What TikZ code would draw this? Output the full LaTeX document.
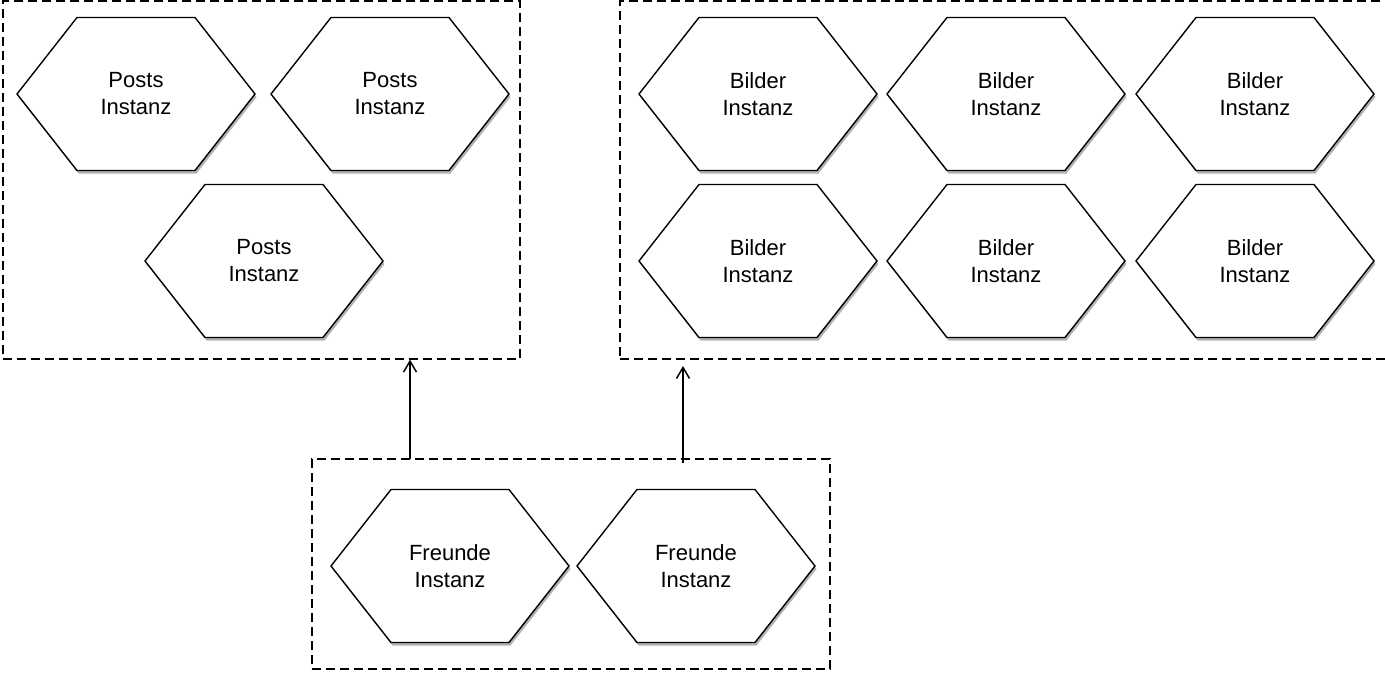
\documentclass[tikz,border=0pt]{standalone}
\usepackage{fontspec}
\setmainfont{Liberation Sans}
\usetikzlibrary{shadows,arrows.meta}
\tikzset{
  hexa/.style={draw=black, line width=1.4pt, fill=white, line join=miter,
    drop shadow={shadow xshift=1.5pt, shadow yshift=-3pt, fill=black, opacity=0.3}},
  hextext/.style={align=center, font=\fontsize{22pt}{27pt}\selectfont, inner sep=0pt},
  grp/.style={draw=black, line width=1.3pt, dash pattern=on 9pt off 5pt, rectangle, inner sep=0pt},
  link/.style={line width=1.5pt, -{Straight Barb[length=11pt,width=13pt,line width=1.5pt]}}
}
\newcommand\hexnode[4]{%
  \draw[hexa] (#2-119,#3) -- (#2-59,#3-76.5) -- (#2+59,#3-76.5) -- (#2+119,#3)
     -- (#2+59,#3+76.5) -- (#2-59,#3+76.5) -- cycle;
  \node[hextext] (#1) at (#2,#3) {#4};
}
\begin{document}
\begin{tikzpicture}[x=1pt,y=-1pt]
\useasboundingbox (0,0) rectangle (1385,675);
% group boxes
\node[grp, minimum width=517pt, minimum height=358pt] (gposts) at (261.5,180) {};
\node[grp, minimum width=768pt, minimum height=358pt] (gbilder) at (1004,180) {};
\node[grp, minimum width=518pt, minimum height=210pt] (gfreunde) at (571,564) {};
% posts
\hexnode{p1}{136}{94}{Posts\\Instanz}
\hexnode{p2}{390}{94}{Posts\\Instanz}
\hexnode{p3}{264}{261}{Posts\\Instanz}
% bilder
\hexnode{b1}{758}{94}{Bilder\\Instanz}
\hexnode{b2}{1006}{94}{Bilder\\Instanz}
\hexnode{b3}{1255}{94}{Bilder\\Instanz}
\hexnode{b4}{758}{261}{Bilder\\Instanz}
\hexnode{b5}{1006}{261}{Bilder\\Instanz}
\hexnode{b6}{1255}{261}{Bilder\\Instanz}
% freunde
\hexnode{f1}{450}{566}{Freunde\\Instanz}
\hexnode{f2}{696}{566}{Freunde\\Instanz}
% arrows
\coordinate (a1) at (410,459);
\coordinate (a2) at (683,463);
\coordinate (t2) at (683,366);
\draw[link] (a1) -- (a1 |- gposts.south);
\draw[link] (a2) -- (t2);
\end{tikzpicture}
\end{document}
